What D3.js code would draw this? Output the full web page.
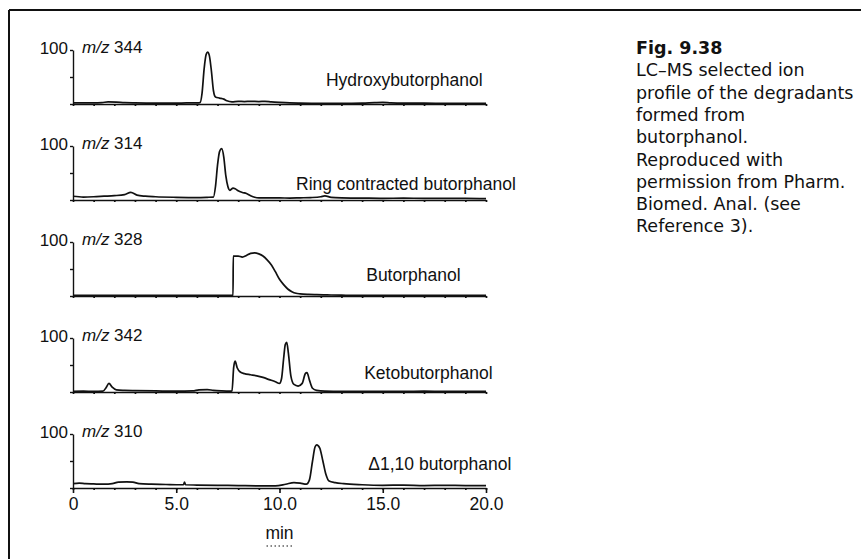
<!DOCTYPE html>
<html><head><meta charset="utf-8">
<script src="https://cdn.jsdelivr.net/npm/d3@7"></script>
<style>
html,body{margin:0;padding:0;background:#fff;}
svg{display:block;}
</style></head>
<body>
<svg id="chart" width="861" height="559"></svg>
<script>
// ---- data (time in min, relative intensity in %) ----
const ionMasses = ["344", "314", "328", "342", "310"];
const compoundNames = ["Hydroxybutorphanol", "Ring contracted butorphanol", "Butorphanol", "Ketobutorphanol", "\u03941,10 butorphanol"];
const xTickValues = [0, 5, 10, 15, 20];
const xTickLabels = ["0", "5.0", "10.0", "15.0", "20.0"];
const axisTitle = "min";
const captionTitle = "Fig. 9.38";
const captionLines = ["LC\u2013MS selected ion", "profile of the degradants", "formed from", "butorphanol.", "Reproduced with", "permission from Pharm.", "Biomed. Anal. (see", "Reference 3)."];

const trace344 = [[0,2],[0.5,2],[1,2],[1.4,2.5],[1.7,4],[2.1,3.5],[2.5,2.5],[3,2],[4,1.5],[5,1.5],[5.5,2],[6,2],[6.15,2.5],[6.25,20],[6.35,65],[6.45,92],[6.52,96],[6.6,90],[6.7,62],[6.8,25],[6.9,13],[7.1,11],[7.3,9],[7.45,6],[7.7,4],[8.0,5],[8.3,4.5],[8.6,5],[9,4.5],[9.3,5],[9.6,4],[10,3],[10.5,2],[11,1.5],[12,1],[13,1],[14,1.5],[14.6,2.5],[15,3],[15.4,2],[16,1.5],[17,1.5],[18,1.2],[19,1],[20,1]];
const trace314 = [[0,7],[0.5,5.5],[1,6],[1.5,7],[2,8],[2.5,10],[2.8,14],[3.1,9],[3.5,7],[4,6],[5,5],[6,4.5],[6.5,5],[6.8,5.5],[6.9,25],[7.0,65],[7.1,90],[7.2,95],[7.3,80],[7.4,45],[7.5,25],[7.6,18],[7.75,22],[7.85,21],[8.0,17],[8.2,14],[8.4,12],[8.6,8],[8.8,5],[9,4],[9.5,4],[10,4],[10.5,3.5],[11,4],[11.5,4.5],[12,6],[12.2,7.5],[12.5,5],[13,4],[14,3.5],[15,3],[16,3.5],[17,3],[18,3],[19,3],[20,2.5]];
const trace328 = [[0,1],[2,1],[4,1],[6,1],[7.7,1],[7.75,1],[7.76,74],[8.0,74],[8.2,72],[8.4,75],[8.6,79],[8.8,80],[9.0,78],[9.2,74],[9.4,67],[9.6,58],[9.8,45],[10.0,31],[10.2,21],[10.4,13],[10.6,8],[10.8,5],[11.0,4],[11.4,3],[11.8,2.5],[12.3,2],[13,1.5],[14,1],[16,1],[18,1],[20,1]];
const trace342 = [[0,1],[0.5,1.5],[1,1],[1.45,1.5],[1.6,8],[1.74,16],[1.9,9],[2.1,4],[2.5,3],[3,2.5],[4,2],[5,1.5],[5.8,2],[6.1,4],[6.5,4.5],[6.8,3],[7.2,2],[7.6,1.5],[7.7,2],[7.78,45],[7.85,57],[7.95,45],[8.1,37],[8.3,34],[8.6,32],[8.9,30],[9.2,27],[9.5,23],[9.8,19],[10.0,16],[10.1,25],[10.2,62],[10.28,88],[10.35,92],[10.43,72],[10.55,30],[10.7,14],[10.9,11],[11.1,16],[11.25,34],[11.33,36],[11.45,22],[11.6,7],[11.8,3],[12.2,1.5],[13,1],[14,1.2],[15,1],[16,1],[17,1.5],[18,1],[19,1],[20,1]];
const trace310 = [[0,8],[0.3,9],[0.6,8],[1,7.5],[1.5,7],[1.9,8],[2.2,11],[2.6,11.5],[2.9,11],[3.2,8],[3.8,7],[4.5,6.5],[5,6],[5.35,6],[5.4,11],[5.45,6],[6,5.5],[7,5],[8,4.5],[9,4],[9.8,4],[10.3,7],[10.7,10],[11.0,9],[11.3,7],[11.45,15],[11.6,50],[11.72,76],[11.8,80],[11.95,74],[12.1,50],[12.25,25],[12.4,13],[12.7,10],[13.1,8],[14,6],[15,5],[16,5.5],[17,4.5],[18,5],[19,4.5],[20,4.5]];
const traces = [trace344, trace314, trace328, trace342, trace310];
// label anchor positions in data units [min, %]
const nameAnchors = [[12.25, 44], [10.8, 30], [14.2, 40], [14.1, 35], [14.3, 45]];

// ---- layout ----
const svg = d3.select("#chart");
const ink = "#111";
const chartFont = "'Liberation Sans', Arial, sans-serif";
const x = d3.scaleLinear().domain([0, 20]).range([73, 486]);
const panelBase0 = 104, panelStep = 96, panelH = 54;

// frame
svg.append("line").attr("x1", 9).attr("x2", 861).attr("y1", 10).attr("y2", 10).attr("stroke", ink).attr("stroke-width", 2);
svg.append("line").attr("x1", 9).attr("x2", 9).attr("y1", 10).attr("y2", 559).attr("stroke", ink).attr("stroke-width", 2);

traces.forEach((tr, i) => {
  const base = panelBase0 + i * panelStep;
  const y = d3.scaleLinear().domain([0, 100]).range([base, base - panelH]);
  const g = svg.append("g");

  // baseline axis with minute ticks
  const ax = g.append("g").attr("transform", `translate(0,${base})`)
    .call(d3.axisBottom(x).tickValues(d3.range(0, 21)).tickSize(2).tickSizeOuter(0).tickFormat(""));
  ax.selectAll("path,line").attr("stroke", ink).attr("stroke-width", 1.7);

  // vertical intensity axis
  const ay = g.append("g").attr("transform", `translate(${x(0)},0)`)
    .call(d3.axisLeft(y).tickValues([0, 50, 100]).tickSize(3).tickSizeOuter(0).tickPadding(2)
      .tickFormat(d => d === 100 ? "100" : ""));
  ay.selectAll("path,line").attr("stroke", ink).attr("stroke-width", 1.4);
  ay.selectAll("text").attr("font-family", chartFont).attr("font-size", 17).attr("fill", ink).attr("dy", "0.2em");

  // m/z label
  const t = g.append("text").attr("x", x(0) + 9).attr("y", y(100)).attr("dy", "0.2em")
    .attr("font-family", chartFont).attr("font-size", 17).attr("fill", ink);
  t.append("tspan").attr("font-style", "italic").text("m/z");
  t.append("tspan").text(" " + ionMasses[i]);

  // trace
  const line = d3.line().x(d => x(d[0])).y(d => y(d[1])).curve(d3.curveMonotoneX);
  g.append("path").datum(tr).attr("d", line).attr("fill", "none").attr("stroke", ink)
    .attr("stroke-width", 1.7).attr("stroke-linejoin", "round");

  // compound name
  g.append("text").attr("x", x(nameAnchors[i][0])).attr("y", y(nameAnchors[i][1])).attr("dy", "0.35em")
    .attr("font-family", chartFont).attr("font-size", 17.5).attr("fill", ink).text(compoundNames[i]);

  if (i === traces.length - 1) {
    const bx = g.append("g").attr("transform", `translate(0,${base})`)
      .call(d3.axisBottom(x).tickValues(xTickValues).tickSize(5).tickSizeOuter(0).tickPadding(5)
        .tickFormat((d, k) => xTickLabels[k]));
    bx.selectAll("path").remove();
    bx.selectAll("line").attr("stroke", ink).attr("stroke-width", 1.6);
    bx.selectAll("text").attr("font-family", chartFont).attr("font-size", 17.5).attr("fill", ink);
    const mx = x(10);
    svg.append("text").attr("x", mx).attr("y", base + 51).attr("text-anchor", "middle")
      .attr("font-family", chartFont).attr("font-size", 17.5).attr("fill", ink).text(axisTitle);
    svg.append("line").attr("x1", mx - 13).attr("x2", mx + 13).attr("y1", base + 58).attr("y2", base + 58)
      .attr("stroke", ink).attr("stroke-width", 1.2).attr("stroke-dasharray", "1.5,2.5");
  }
});

// caption
const capX = 636, capY0 = 54, capStep = 22.3;
const capFont = "'DejaVu Sans', 'Open Sans', sans-serif";
svg.append("text").attr("x", capX).attr("y", capY0).attr("font-family", capFont).attr("font-weight", "bold")
  .attr("font-size", 17.5).attr("fill", ink).text(captionTitle);
captionLines.forEach((s, k) => {
  svg.append("text").attr("x", capX).attr("y", capY0 + (k + 1) * capStep).attr("font-family", capFont)
    .attr("font-size", 17.5).attr("fill", ink).text(s);
});
</script>
</body></html>
